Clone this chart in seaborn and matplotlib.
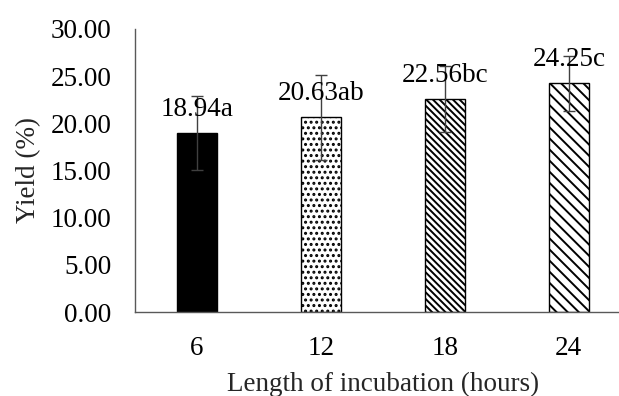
import numpy as np
import pandas as pd
import seaborn as sns
import matplotlib
matplotlib.use("Agg")
from matplotlib import pyplot as plt

# Data
hours   = ["6", "12", "18", "24"]
yields  = [18.94, 20.63, 22.56, 24.25]
errors  = [3.9, 4.5, 3.5, 2.9]
letters = ["a", "ab", "bc", "c"]

sns.set_style("white")
plt.rcParams["font.family"] = ["Liberation Serif", "DejaVu Serif"]
plt.rcParams["hatch.linewidth"] = 1.4
FS = 19.5
AXIS_GREY = "#595959"

df = pd.DataFrame({"hours": hours, "yield": yields})

fig = plt.figure(figsize=(6.19, 3.96), dpi=100)
# axis runs past the right edge of the picture, like the reference crop
ax = fig.add_axes([0.218, 0.212, 0.801, 0.715])

sns.barplot(data=df, x="hours", y="yield", order=hours, width=0.32,
            color="white", edgecolor="black", linewidth=1.0, errorbar=None, ax=ax)

# fill patterns per bar
fills   = ["black", "white", "white", "white"]
hatches = [None, "...", "\\\\\\\\\\", "\\\\\\"]
for bar, fc, h in zip(ax.patches, fills, hatches):
    bar.set_facecolor(fc)
    if h:
        bar.set_hatch(h)

# error bars
xpos = np.arange(len(hours))
ax.errorbar(xpos, yields, yerr=errors, fmt="none", ecolor="#404040",
            elinewidth=1.0, capsize=4, capthick=1.0, zorder=5)

# value labels with significance letters
for x, v, l in zip(xpos, yields, letters):
    ax.annotate(f"{v:.2f}{l}", (x, v), xytext=(0, 8), textcoords="offset points",
                ha="center", va="bottom", fontsize=FS, color="black", zorder=6)

ax.set_ylim(0, 30)
ax.set_xlim(-0.5, 3.5)
ax.set_yticks(np.arange(0, 31, 5))
ax.set_yticklabels([f"{t:.2f}" for t in np.arange(0, 31, 5)])
ax.tick_params(axis="both", length=0, labelsize=FS, colors="black")
ax.tick_params(axis="y", pad=17)
ax.tick_params(axis="x", pad=17)

ax.set_xlabel("Length of incubation (hours)", fontsize=FS, labelpad=8)
ax.set_ylabel("Yield (%)", fontsize=FS, labelpad=7)

sns.despine(ax=ax)
for side in ["left", "bottom"]:
    ax.spines[side].set_color(AXIS_GREY)
    ax.spines[side].set_linewidth(1.0)

fig.savefig("out.png", dpi=100)
